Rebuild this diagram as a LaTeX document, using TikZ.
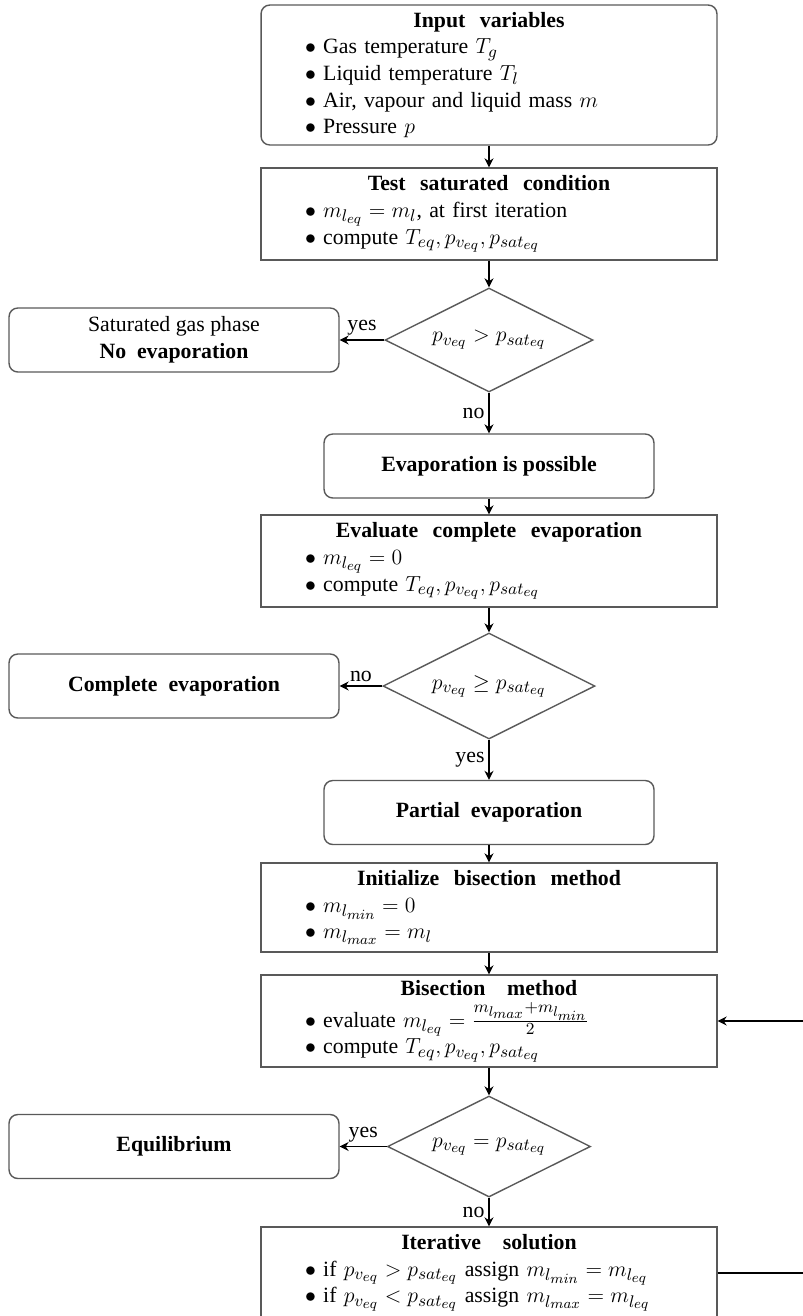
\documentclass[tikz,border=0pt]{standalone}
\usepackage{fix-cm}
\usepackage[no-math]{fontspec}
\setmainfont{Liberation Serif}
\usetikzlibrary{arrows.meta, shapes.geometric}
\DeclareMathSizes{12.4}{12.4}{9.6}{8}
\def\head#1{\centerline{\bfseries #1}}
\def\itm{$\bullet$\ }

\begin{document}
\begin{tikzpicture}[x=0.02cm, y=-0.02cm, font=\fontsize{12.4}{15.2}\selectfont,
    box/.style={draw=gray!70!black, line width=0.8pt},
    proc/.style={box, rectangle, text width=7.36cm, inner xsep=0.88cm, inner ysep=2pt, align=left, minimum height=1.84cm},
    roundproc/.style={proc, rounded corners=5pt},
    term/.style={box, rounded corners=5pt, minimum width=6.6cm, minimum height=1.28cm, align=center},
    decision/.style={box, diamond, aspect=2, inner sep=0pt},
    flow/.style={draw, line width=1.1pt, -{Stealth[length=1.8mm, width=1.8mm]}},
    lbl/.style={inner sep=2pt}]
    \useasboundingbox (0,0) rectangle (802,1316);
    \node[roundproc, minimum height=2.8cm] (input) at (489,75) {\head{Input\ \ variables}
        \itm Gas temperature $T_g$\\
        \itm Liquid temperature $T_l$\\
        \itm Air, vapour and liquid mass $m$\\
        \itm Pressure $p$};
    \node[proc] (test) at (489,214) {\head{Test\ \ saturated\ \ condition}
        \itm $m_{l_{eq}} = m_l$, at first iteration\\
        \itm compute $T_{eq}, p_{v_{eq}}, p_{sat_{eq}}$};
    \node[decision, minimum width=4.16cm, minimum height=2.08cm] (d1) at (489,340) {$p_{v_{eq}} > p_{sat_{eq}}$};
    \node[term] (sat) at (174,340) {Saturated gas phase\\ \textbf{No\ \ evaporation}};
    \node[term] (possible) at (489,466) {\textbf{Evaporation is possible}};
    \node[proc] (evalc) at (489,561) {\head{Evaluate\ \ complete\ \ evaporation}
        \itm $m_{l_{eq}} = 0$\\
        \itm compute $T_{eq}, p_{v_{eq}}, p_{sat_{eq}}$};
    \node[decision, minimum width=4.24cm, minimum height=2.12cm] (d2) at (489,686) {$p_{v_{eq}} \geq p_{sat_{eq}}$};
    \node[term] (complete) at (174,686) {\textbf{Complete\ \ evaporation}};
    \node[term] (partial) at (489,812.5) {\textbf{Partial\ \ evaporation}};
    \node[proc, minimum height=1.78cm] (init) at (489,907.5) {\head{Initialize\ \ bisection\ \ method}
        \itm $m_{l_{min}} = 0$\\
        \itm $m_{l_{max}} = m_l$};
    \node[proc] (bisect) at (489,1021) {\head{Bisection\ \ \ method}\vspace{3pt}
        \itm evaluate $m_{l_{eq}} = \frac{m_{l_{max}}+m_{l_{min}}}{2}$\\
        \itm compute $T_{eq}, p_{v_{eq}}, p_{sat_{eq}}$};
    \node[decision, minimum width=4.06cm, minimum height=2.02cm] (d3) at (489,1146.5) {$p_{v_{eq}} = p_{sat_{eq}}$};
    \node[term] (equil) at (174,1146.5) {\textbf{Equilibrium}};
    \node[proc] (iter) at (489,1273) {\head{Iterative\ \ \ solution}
        \itm if $p_{v_{eq}} > p_{sat_{eq}}$ assign $m_{l_{min}} = m_{l_{eq}}$\\
        \itm if $p_{v_{eq}} < p_{sat_{eq}}$ assign $m_{l_{max}} = m_{l_{eq}}$};
    \coordinate (loop) at (840,1273);

    \draw[flow] (input) -- (test);
    \draw[flow] (test) -- (d1);
    \draw[flow] (d1) -- node[lbl, above] (yes1) {yes} (sat);
    \draw[flow] (d1) -- node[lbl, left] (no1) {no} (possible);
    \draw[flow] (possible) -- (evalc);
    \draw[flow] (evalc) -- (d2);
    \draw[flow] (d2) -- node[lbl, above] (no2) {no} (complete);
    \draw[flow] (d2) -- node[lbl, left] (yes2) {yes} (partial);
    \draw[flow] (partial) -- (init);
    \draw[flow] (init) -- (bisect);
    \draw[flow] (bisect) -- (d3);
    \draw[flow] (d3) -- node[lbl, above] (yes3) {yes} (equil);
    \draw[flow] (d3) -- node[lbl, left] (no3) {no} (iter);
    \draw[flow] (iter) -- (loop) |- (bisect);
\end{tikzpicture}
\end{document}
